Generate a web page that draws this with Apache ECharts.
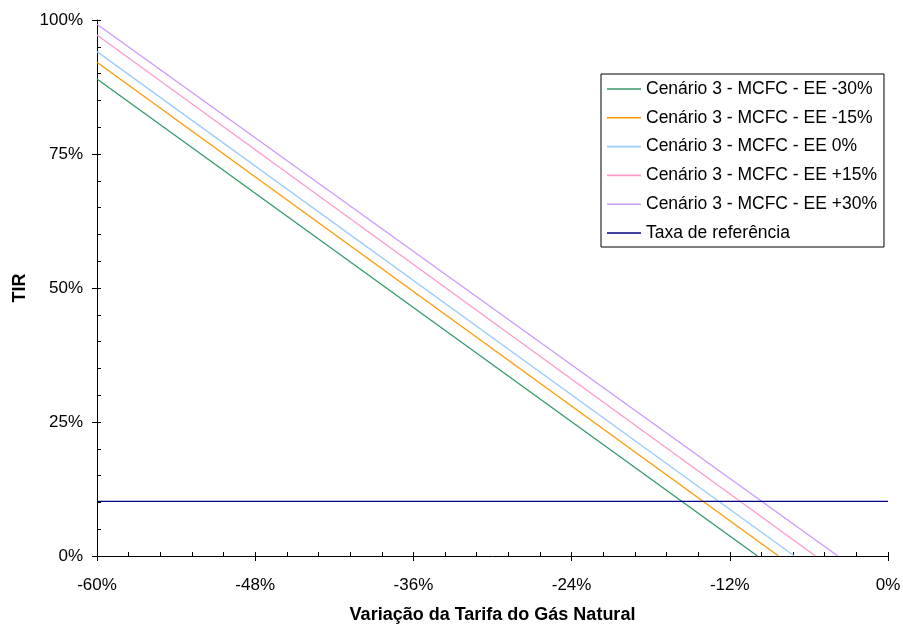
<!DOCTYPE html>
<html>
<head>
<meta charset="utf-8">
<script src="https://cdn.jsdelivr.net/npm/echarts@6/dist/echarts.min.js"></script>
<style>
  html, body { margin: 0; padding: 0; background: #fff; }
  #chart-container { width: 903px; height: 628px; }
</style>
</head>
<body>
<div id="chart-container"></div>
<script>
// series names
var seriesNames = [
  'Cenário 3 - MCFC - EE -30%',
  'Cenário 3 - MCFC - EE -15%',
  'Cenário 3 - MCFC - EE 0%',
  'Cenário 3 - MCFC - EE +15%',
  'Cenário 3 - MCFC - EE +30%'
];
var refName = 'Taxa de referência';
var colors = ['#339966', '#FF9900', '#99CCFF', '#FF99CC', '#CC99FF'];

// [variação tarifa (%), TIR (%)] - start at -60% and where TIR reaches 0
var eeMinus30 = [[-60, 89.0], [-9.9, 0]];
var eeMinus15 = [[-60, 92.1], [-8.3, 0]];
var ee0 = [[-60, 94.1], [-7.1, 0]];
var eePlus15 = [[-60, 97.2], [-5.5, 0]];
var eePlus30 = [[-60, 99.2], [-3.8, 0]];
var taxaReferencia = [[-60, 10.2], [0, 10.2]];

var dom = document.getElementById('chart-container');
var myChart = echarts.init(dom, null, { renderer: 'canvas' });

var font = 'Arial, "Liberation Sans", sans-serif';
var pct = function (v) { return v + '%'; };

var lines = [eeMinus30, eeMinus15, ee0, eePlus15, eePlus30].map(function (d, i) {
  return {
    name: seriesNames[i],
    type: 'line',
    data: d,
    symbol: 'none',
    lineStyle: { color: colors[i], width: 1.3 },
    itemStyle: { color: colors[i] },
    z: 3
  };
});
lines.push({
  name: refName,
  type: 'line',
  data: taxaReferencia,
  symbol: 'none',
  lineStyle: { color: '#000080', width: 1.3 },
  itemStyle: { color: '#000080' },
  z: 3
});

var option = {
  animation: false,
  backgroundColor: '#fff',
  textStyle: { fontFamily: font },
  grid: { left: 97, right: 15, top: 20, bottom: 72, outerBoundsMode: 'none', containLabel: false },
  legend: {
    orient: 'vertical',
    left: 601,
    top: 74,
    data: seriesNames.concat([refName]),
    icon: 'rect',
    itemWidth: 34,
    itemHeight: 1.6,
    itemGap: 10.8,
    padding: [6, 7, 5, 6],
    borderColor: '#000',
    borderWidth: 1,
    backgroundColor: '#fff',
    textStyle: { fontFamily: font, fontSize: 17.5, color: '#000' }
  },
  xAxis: [{
    type: 'value',
    position: 'bottom',
    min: -60, max: 0, interval: 12,
    name: 'Variação da Tarifa do Gás Natural',
    nameLocation: 'middle',
    nameGap: 50,
    nameTextStyle: { fontFamily: font, fontSize: 18, fontWeight: 'bold', color: '#000' },
    axisLine: { onZero: false, lineStyle: { color: '#000', width: 1 } },
    axisTick: { show: true, inside: false, length: 5, lineStyle: { color: '#000' } },
    axisLabel: { formatter: pct, fontSize: 17, color: '#000', margin: 21 },
    splitLine: { show: false }
  }, {
    type: 'value',
    position: 'bottom',
    min: -60, max: 0, interval: 12,
    axisLine: { show: false, onZero: false },
    axisTick: { show: true, inside: true, length: 4, lineStyle: { color: '#000' } },
    minorTick: { show: true, splitNumber: 5, length: 4, lineStyle: { color: '#000' } },
    axisLabel: { show: false },
    splitLine: { show: false }
  }],
  yAxis: [{
    type: 'value',
    position: 'left',
    min: 0, max: 100, interval: 25,
    name: 'TIR',
    nameLocation: 'middle',
    nameGap: 68,
    nameTextStyle: { fontFamily: font, fontSize: 18, fontWeight: 'bold', color: '#000' },
    axisLine: { show: true, onZero: false, lineStyle: { color: '#000', width: 1 } },
    axisTick: { show: true, inside: false, length: 5, lineStyle: { color: '#000' } },
    axisLabel: { formatter: pct, fontSize: 17, color: '#000', margin: 14 },
    splitLine: { show: false }
  }, {
    type: 'value',
    position: 'left',
    min: 0, max: 100, interval: 25,
    axisLine: { show: false, onZero: false },
    axisTick: { show: true, inside: true, length: 4, lineStyle: { color: '#000' } },
    minorTick: { show: true, splitNumber: 5, length: 4, lineStyle: { color: '#000' } },
    axisLabel: { show: false },
    splitLine: { show: false }
  }],
  series: lines
};

myChart.setOption(option);
window.addEventListener('resize', myChart.resize);
</script>
</body>
</html>
